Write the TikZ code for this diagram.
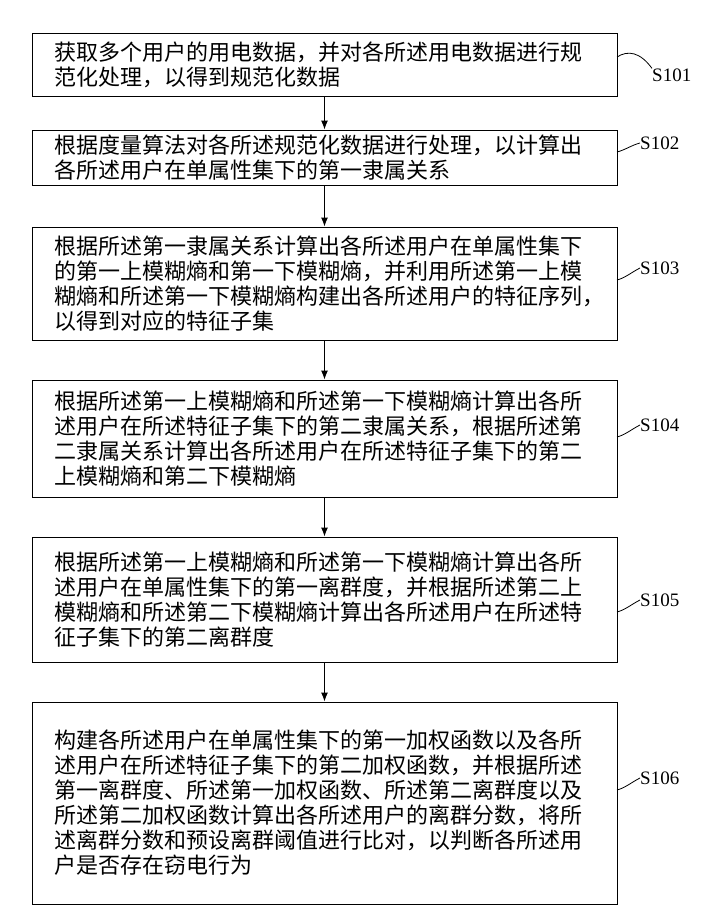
\documentclass[tikz,border=0pt]{standalone}
\usepackage{fontspec}
\newfontfamily\cjk{Noto Sans CJK SC}
\setmainfont{Liberation Serif}
\usetikzlibrary{arrows.meta}
\tikzset{
  stepbox/.style={draw, line width=1pt, minimum width=585pt, inner sep=0pt,
    text width=540pt, align=left, font=\cjk\fontsize{22}{25}\selectfont},
  flow/.style={-{Latex[length=9pt,width=7pt]}, line width=1pt},
  lead/.style={line width=0.8pt},
  tag/.style={font=\fontsize{19}{19}\selectfont, anchor=west, inner sep=0pt}
}
\begin{document}
\begin{tikzpicture}[x=1pt,y=-1pt]
    \useasboundingbox (0,0) rectangle (724,921);

    % Steps
    \node[stepbox, minimum height=63pt] (s1) at (324.5,64.5)
        {获取多个用户的用电数据，并对各所述用电数据进行规\\范化处理，以得到规范化数据};
    \node[stepbox, minimum height=55pt] (s2) at (324.5,157.5)
        {根据度量算法对各所述规范化数据进行处理，以计算出\\各所述用户在单属性集下的第一隶属关系};
    \node[stepbox, minimum height=113pt] (s3) at (324.5,283.5)
        {根据所述第一隶属关系计算出各所述用户在单属性集下\\的第一上模糊熵和第一下模糊熵，并利用所述第一上模\\糊熵和所述第一下模糊熵构建出各所述用户的特征序列，\\以得到对应的特征子集};
    \node[stepbox, minimum height=117pt] (s4) at (324.5,438.5)
        {根据所述第一上模糊熵和所述第一下模糊熵计算出各所\\述用户在所述特征子集下的第二隶属关系，根据所述第\\二隶属关系计算出各所述用户在所述特征子集下的第二\\上模糊熵和第二下模糊熵};
    \node[stepbox, minimum height=125pt] (s5) at (324.5,599.5)
        {根据所述第一上模糊熵和所述第一下模糊熵计算出各所\\述用户在单属性集下的第一离群度，并根据所述第二上\\模糊熵和所述第二下模糊熵计算出各所述用户在所述特\\征子集下的第二离群度};
    \node[stepbox, minimum height=202pt] (s6) at (324.5,803)
        {构建各所述用户在单属性集下的第一加权函数以及各所\\述用户在所述特征子集下的第二加权函数，并根据所述\\第一离群度、所述第一加权函数、所述第二离群度以及\\所述第二加权函数计算出各所述用户的离群分数，将所\\述离群分数和预设离群阈值进行比对，以判断各所述用\\户是否存在窃电行为};

    % Arrows
    \foreach \a/\b in {s1/s2, s2/s3, s3/s4, s4/s5, s5/s6}
        \draw[flow] (\a.south) -- (\b.north);

    % Step tags
    \node[tag] (t1) at (652,75) {S101};
    \node[tag] (t2) at (640,143) {S102};
    \node[tag] (t3) at (640,268) {S103};
    \node[tag] (t4) at (640,425) {S104};
    \node[tag] (t5) at (640,600) {S105};
    \node[tag] (t6) at (640,778) {S106};

    \draw[lead] (617,57) .. controls (628,50) and (640,52) .. (t1.north west);
    \draw[lead] (617,152) .. controls (625,150) and (632,145) .. (t2.west);
    \draw[lead] (617,280) .. controls (625,278) and (632,272) .. (t3.west);
    \draw[lead] (617,437) .. controls (625,435) and (632,429) .. (t4.west);
    \draw[lead] (617,612) .. controls (625,610) and (632,604) .. (t5.west);
    \draw[lead] (617,790) .. controls (625,788) and (632,782) .. (t6.west);
\end{tikzpicture}
\end{document}
